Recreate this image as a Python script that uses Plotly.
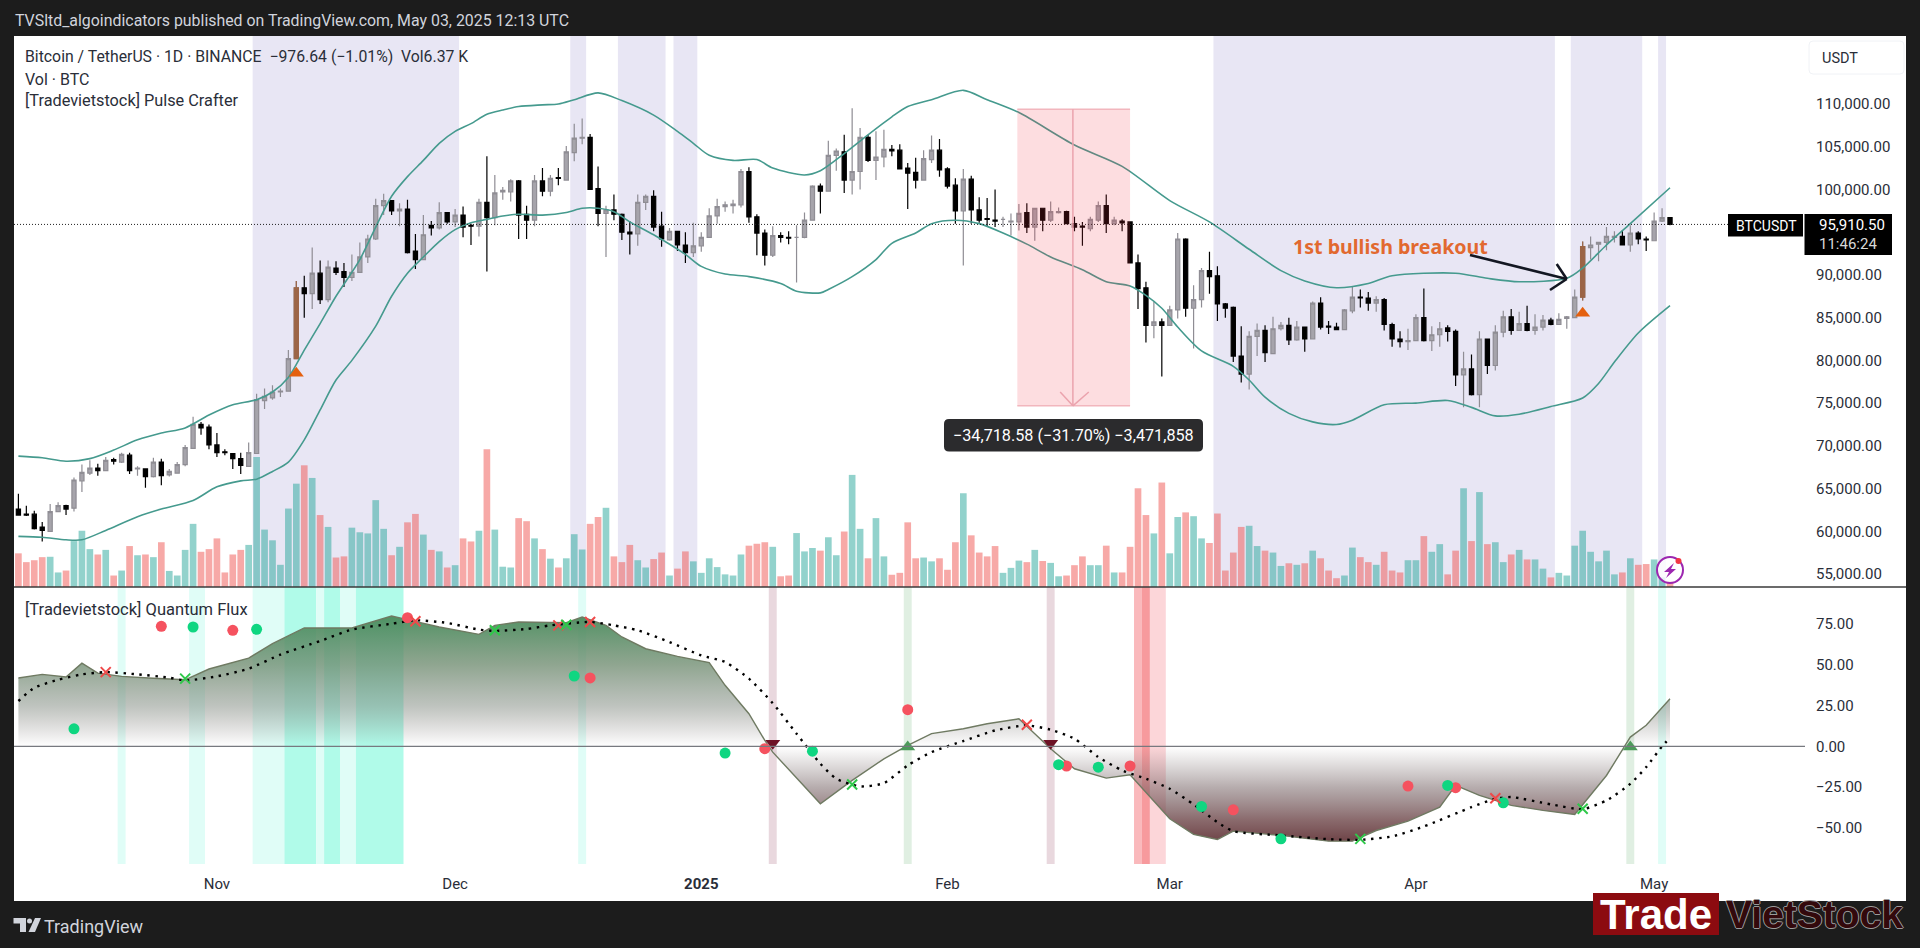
import numpy as np
import pandas as pd
import plotly.graph_objects as go

W, H = 1920, 948
FONT = "Roboto"

# daily candles, thousands of USDT
opens = [62.6,62.0,62.0,60.5,60.0,62.3,63.0,62.7,65.9,66.8,67.4,67.1,68.4,68.1,68.9,67.3,67.3,66.4,68.1,66.6,
66.8,67.8,69.7,72.5,72.2,70.1,69.3,69.1,68.5,67.6,69.1,75.3,75.6,76.3,76.4,80.2,88.5,87.8,90.2,87.1,
90.8,90.4,89.7,90.3,92.1,94.2,98.1,98.7,97.5,97.7,92.8,91.8,95.8,95.5,97.3,96.2,97.0,95.8,95.7,98.5,
96.7,99.7,99.7,101.0,97.1,96.4,101.0,99.8,101.4,101.1,104.3,106.0,106.1,100.1,97.2,97.6,97.1,95.0,94.8,98.5,
99.2,95.7,94.1,95.1,93.5,92.6,93.4,94.4,96.9,98.0,98.1,98.2,102.1,96.8,94.9,92.3,94.6,94.4,94.4,94.4,
96.4,100.4,99.8,104.0,104.4,101.1,102.1,106.1,103.4,103.8,104.7,104.6,102.5,102.0,101.1,103.5,104.6,102.4,100.5,97.5,
101.2,97.6,96.6,96.4,96.5,96.2,96.2,97.3,95.6,97.8,96.4,97.3,97.4,96.0,95.7,95.4,96.4,98.1,96.0,96.3,
96.2,91.4,88.5,84.1,84.5,84.1,85.9,94.2,86.1,87.1,90.5,89.9,86.6,86.2,80.5,78.4,82.8,83.5,80.8,83.7,
84.1,82.4,83.9,82.5,86.7,84.0,83.9,83.6,85.8,87.4,87.3,86.7,87.1,84.2,82.5,82.2,82.3,85.0,82.3,83.0,
83.8,83.4,78.3,79.0,76.0,82.5,79.4,83.3,85.1,83.5,84.3,83.5,83.9,84.7,84.2,84.9,85.0,87.4,93.2,93.6,
93.8,94.4,94.5,93.5,94.9,94.2,94.0,96.3,96.7]
highs = [64.4,63.0,62.4,61.1,63.2,63.4,63.1,66.3,67.8,68.3,67.9,68.7,68.6,69.2,69.2,67.6,67.3,68.6,68.5,67.3,
68.1,70.1,73.4,72.8,72.5,71.5,69.6,69.1,69.2,70.4,76.1,76.7,77.1,76.7,81.2,89.3,89.9,93.2,91.7,91.7,
91.6,91.4,92.4,93.8,94.7,98.9,99.5,98.7,98.4,98.8,94.8,97.0,96.3,98.5,97.3,97.7,98.0,96.0,98.9,103.9,
101.7,100.3,101.2,101.1,98.1,101.7,102.5,101.7,102.5,105.1,107.7,108.3,106.5,102.7,98.1,99.4,97.2,96.3,99.4,99.4,
99.9,97.4,95.5,95.1,95.0,96.1,95.0,97.8,98.9,98.6,98.8,102.4,102.6,97.1,95.3,95.7,95.0,95.1,95.8,97.3,
100.5,100.7,105.7,104.8,106.4,109.5,107.2,106.4,106.8,107.0,105.2,105.3,103.1,103.7,104.6,106.3,105.9,102.6,101.3,102.4,
101.6,99.1,99.0,100.0,96.8,97.2,98.3,98.4,97.8,97.8,98.6,97.9,97.5,96.8,96.2,96.8,98.6,99.4,96.8,96.5,
96.2,92.4,89.2,86.9,84.9,86.4,94.9,94.3,88.8,90.8,92.7,91.0,86.7,86.3,84.0,83.4,84.3,84.1,85.1,84.5,
85.0,84.6,83.9,86.9,87.4,84.6,84.4,86.0,88.6,88.3,88.0,87.5,87.3,84.4,83.4,83.7,85.4,88.4,84.0,84.5,
84.1,83.6,81.0,80.7,83.4,82.5,84.1,85.8,86.0,85.7,86.4,85.4,85.3,85.0,85.5,85.2,88.3,93.9,94.5,93.8,
95.6,95.1,95.2,95.8,95.1,94.5,97.3,97.8,96.7]
lows = [61.9,61.8,60.2,58.8,60.0,62.3,61.9,62.3,64.6,66.6,66.5,67.1,67.8,68.0,66.7,66.5,65.1,66.3,65.4,66.4,
66.8,67.6,69.7,71.3,69.6,68.7,68.9,67.3,66.7,67.6,69.1,74.3,75.4,75.7,76.4,80.2,85.0,86.0,86.6,86.8,
90.0,88.6,89.3,90.3,91.4,94.1,97.0,97.0,95.7,92.5,90.7,91.8,94.6,95.3,96.0,95.6,94.4,93.5,94.5,90.4,
95.8,98.8,98.6,94.2,94.2,95.7,99.2,99.2,100.5,101.1,103.3,105.3,100.0,95.7,92.1,96.4,94.1,92.4,93.4,97.6,
95.1,93.3,94.0,92.8,91.4,92.1,92.7,94.4,96.0,97.4,97.2,97.9,96.1,92.3,91.1,92.1,93.8,93.6,89.1,94.3,
96.4,97.2,99.8,102.2,99.6,99.4,100.0,103.2,101.1,102.6,103.9,102.4,97.7,100.1,101.1,103.1,101.5,100.1,96.0,91.1,
96.0,96.1,95.6,95.6,95.6,94.6,95.2,94.9,94.0,95.1,96.2,97.2,96.0,95.1,93.4,95.1,96.2,94.9,95.8,95.1,
91.4,86.0,82.1,82.6,78.1,84.1,84.9,85.1,81.4,86.2,87.8,84.6,85.0,79.8,77.4,76.6,80.5,79.8,80.8,83.5,
81.8,82.3,81.0,82.5,83.6,83.1,83.6,83.6,85.5,86.2,85.8,85.7,83.5,81.6,81.5,81.2,82.3,82.2,81.1,81.6,
82.2,77.0,74.5,75.9,74.5,78.4,78.8,82.7,83.0,83.5,83.4,83.0,83.5,84.1,84.2,83.7,85.0,87.0,91.8,91.6,
92.9,93.8,93.5,92.7,93.6,92.8,94.0,96.2,95.8]
closes = [61.9,61.9,60.3,60.1,62.3,63.0,62.6,66.0,66.9,67.4,67.1,68.3,68.2,69.0,67.1,67.4,66.4,68.1,66.5,67.0,
67.8,69.8,72.5,72.1,70.1,69.2,69.2,68.5,67.7,69.2,75.4,75.8,76.3,76.4,80.2,88.5,87.8,90.2,87.1,90.9,
90.3,89.7,90.3,92.1,94.2,98.1,98.7,97.5,97.7,92.6,91.8,94.7,95.5,97.3,96.2,97.0,95.6,95.7,98.5,96.7,
99.6,99.9,101.0,97.0,96.4,101.0,99.8,101.3,101.3,104.4,106.0,106.1,100.0,97.2,97.6,97.1,95.0,94.8,98.5,99.2,
95.6,94.2,95.1,93.5,92.6,93.4,94.4,96.9,98.0,98.2,98.3,102.1,96.8,94.9,92.3,94.6,94.4,94.3,94.4,96.4,
100.4,99.8,104.0,104.5,101.1,102.1,106.1,103.4,103.8,104.7,104.5,102.4,101.9,101.1,103.6,104.6,102.3,100.4,97.5,101.2,
97.6,96.4,96.5,96.3,96.5,96.3,97.2,95.6,97.8,96.4,97.4,97.4,96.0,95.6,95.6,96.5,98.1,96.0,96.4,96.1,
91.4,88.4,84.1,84.5,84.1,85.9,94.2,86.1,87.1,90.5,89.8,86.6,86.1,80.5,78.4,82.8,83.5,80.9,83.7,84.1,
82.4,83.9,82.5,86.7,83.9,83.9,83.6,85.9,87.4,87.3,86.7,87.1,84.2,82.5,82.2,82.3,85.0,82.3,83.0,83.7,
83.4,78.3,79.0,76.0,82.5,79.4,83.3,85.1,83.5,84.3,83.5,83.9,84.7,84.2,84.8,85.1,87.4,93.3,93.5,93.8,
94.5,94.5,93.5,94.9,94.2,94.1,96.3,96.7,95.9105]

# volume, only relative heights can be read
volumes = [88,65,70,78,79,38,43,120,147,99,85,97,30,43,107,83,85,78,117,42,
30,97,165,92,99,127,38,85,97,110,340,150,122,58,205,270,318,285,188,157,
77,80,155,143,140,227,152,83,105,169,191,137,97,93,51,57,127,119,147,360,
150,53,51,180,172,127,99,74,51,75,138,98,165,183,207,80,65,110,70,51,
73,90,30,48,93,67,37,75,52,33,30,85,108,113,117,105,28,30,141,93,
102,95,130,83,145,293,152,75,180,80,32,37,169,75,77,67,75,45,117,245,
135,90,80,107,37,50,69,65,97,68,63,28,30,57,80,57,57,108,38,38,
105,258,188,140,273,88,183,195,185,127,115,192,43,90,157,160,107,95,90,55,
62,58,62,95,75,43,23,30,103,78,65,58,92,43,38,70,70,133,92,112,
33,95,258,120,248,112,117,65,85,97,72,72,48,25,37,30,108,147,92,67,
95,33,38,75,58,60,72,25,15]

# channel around the price, bar number and level
upper_idx = [0,3,6,9,12,15,18,21,24,27,30,32,34,36,38,40,43,45,47,49,51,53,55,57,59,61,63,66,68,70,73,76,80,83,85,87,90,93,95,99,101,104,107,110,112,115,119,122,126,133,139,145,150,155,159,162,166,170,173,181,185,189,195,197,200,203,208]
upper_val = [68.8,68.6,68.2,68.5,69.5,70.7,71.5,72.1,73.6,74.8,75.4,76.3,78.0,81.2,84.3,87.5,91.8,95.6,99.2,101.5,103.4,105.4,106.8,107.7,108.8,109.3,109.7,109.9,110.0,110.5,111.3,110.4,108.7,106.8,105.4,104.0,103.4,103.5,102.5,101.7,102.2,104.2,106.4,108.5,109.7,110.5,111.6,110.5,109.0,105.2,102.7,98.7,96.2,93.0,90.5,89.3,88.5,89.0,89.9,90.2,89.6,89.2,89.6,90.8,93.5,96.0,100.2]
lower_idx = [0,3,6,8,11,15,18,22,25,28,30,32,34,36,38,40,42,45,47,49,51,53,55,57,59,61,63,66,69,71,73,75,77,80,84,86,89,92,96,98,101,102,105,108,110,113,115,118,121,124,127,130,134,137,140,142,144,146,149,153,155,157,160,163,166,168,172,176,180,183,186,189,193,197,199,201,204,208]
lower_val = [59.4,59.3,59.0,59.0,60.1,61.7,62.6,63.6,65.2,65.9,66.1,67.0,68.1,70.7,74.2,77.7,80.0,84.0,87.5,90.2,92.1,93.9,95.3,96.1,96.5,96.9,97.1,97.0,97.3,97.8,97.8,97.4,96.2,94.7,92.4,91.0,90.1,89.8,89.0,88.1,87.9,88.3,89.8,91.8,93.7,94.9,96.0,96.4,96.0,94.9,93.6,92.1,90.6,89.2,88.7,87.6,86.1,83.9,81.1,79.3,77.7,75.7,73.8,72.8,72.5,73.0,74.8,75.0,75.3,74.5,73.5,73.7,74.6,75.6,77.3,79.8,83.2,86.4]

breakout_idx = [35, 197]
breakout_marks = [78.5, 85.5]

# lower pane
flux_idx = [0,3,6,8,10,13,17,21,24,27,29,32,36,42,47,49,53,58,60,63,67,69,71,74,76,79,83,87,89,92,94,95,101,105,109,112,115,119,122,126,128,130,133,137,140,142,145,148,151,153,159,165,168,171,175,179,181,184,188,192,196,200,203,205,208]
flux_val = [41.9,44.1,42.5,51.0,44.9,42.9,41.7,40.8,47.4,51.7,54.1,62.9,72.5,72.5,79.8,77.6,73.1,68.6,74.1,76.2,75.8,75.8,79.2,74.1,67.0,59.8,55.1,51.3,37.4,20.0,3.7,-3.5,-35.1,-20.8,-7.6,0.6,7.8,10.8,13.9,16.9,7.8,-1.4,-13.7,-19.4,-17.4,-28.0,-44.3,-53.9,-57.0,-51.9,-54.5,-58.0,-58.0,-51.5,-45.7,-37.2,-23.9,-30.0,-36.1,-39.2,-41.7,-17.8,5.7,12.9,29.2]
signal_idx = [0,2,5,8,11,15,19,21,25,29,33,38,42,47,50,54,58,60,64,67,72,75,78,82,86,89,92,95,98,101,103,106,109,112,115,119,123,127,130,133,136,139,142,145,148,151,153,159,165,169,173,177,183,186,188,193,197,200,203,205,207,208]
signal_val = [27.8,35.9,40.8,44.1,45.5,44.1,42.1,40.4,42.9,47.6,56.2,64.5,71.5,75.1,77.2,75.6,71.5,70.7,71.9,74.1,76.2,74.1,71.1,63.9,55.7,51.7,41.5,26.5,7.8,-10.6,-19.8,-24.5,-22.5,-11.6,-3.5,3.3,9.8,12.9,10.2,4.7,-6.5,-14.7,-19.8,-25.9,-35.5,-46.4,-51.9,-54.5,-56.8,-57.2,-55.1,-49.0,-37.2,-32.1,-31.0,-35.5,-38.4,-33.1,-22.9,-12.7,0.0,5.3]
red_dot_idx = [18,27,49,72,94,112,132,140,153,175,181]
red_dot_val = [73.5,71.1,78.8,41.9,-1.4,22.5,-12.0,-12.0,-38.8,-24.3,-25.3]
green_dot_idx = [7,22,30,70,89,100,131,136,149,159,180,187]
green_dot_val = [10.8,73.1,71.7,43.1,-4.1,-2.9,-11.2,-12.7,-36.8,-56.6,-23.9,-34.5]
red_x_idx = [11,50,68,72,127,186]
red_x_val = [45.5,76.6,74.1,76.2,13.3,-31.7]
green_x_idx = [21,60,69,105,169,197]
green_x_val = [41.5,71.1,74.5,-23.3,-56.6,-38.2]
bear_idx = [95,130]
bear_val = [2.0,2.0]
bull_idx = [112,203]
bull_val = [-0.4,-0.4]

# shaded spans, first and last bar
lavender_spans = [(30,55),(70,71),(76,81),(83,85),(151,193),(196,204),(207,207)]
flux_spans = [(13,13,"a1"),(22,23,"a1"),(30,33,"a1"),(34,37,"a2"),(38,38,"a1"),(39,40,"a2"),(41,42,"a1"),(43,48,"a2"),(71,71,"a1"),
    (95,95,"p"),(112,112,"g"),(130,130,"p"),(141,141,"r2"),(142,142,"r3"),(143,144,"r1"),(203,203,"g"),(207,207,"a1")]
span_colors = {"a1":"#e0fdf7", "a2":"#b0fbe9", "p":"#e9d8de", "g":"#e0efe2",
    "r1":"#fcd6d9", "r2":"#fab9bc", "r3":"#f79a9d"}

price_ticks = [110,105,100,90,85,80,75,70,65,60,55]
price_labels = ["110,000.00","105,000.00","100,000.00","90,000.00","85,000.00","80,000.00","75,000.00","70,000.00","65,000.00","60,000.00","55,000.00"]
flux_ticks = [75,50,25,0,-25,-50]
flux_labels = ["75.00","50.00","25.00","0.00","\u221225.00","\u221250.00"]
month_ticks = ["2024-11-01","2024-12-01","2025-01-01","2025-02-01","2025-03-01","2025-04-01","2025-05-01"]
month_labels = ["Nov","Dec","<b>2025</b>","Feb","Mar","Apr","May"]

start = pd.Timestamp("2024-10-07")
def bar_x(i):
    return start + pd.Timedelta(days=float(i))
dates = [bar_x(i) for i in range(len(closes))]
def k(vals):
    return list(np.array(vals) * 1000)
def px(x):
    return x / W
def py(y):
    return 1 - y / H

TEXT = "#2a2e39"
fig = go.Figure()

up = [c >= o for o, c in zip(opens, closes)]
vol_colors = ["rgba(38,166,154,0.5)" if u else "rgba(239,83,80,0.5)" for u in up]
fig.add_trace(go.Bar(x=dates, y=volumes, marker_color=vol_colors, marker_line_width=0, width=0.84*86400000, yaxis="y", hoverinfo="skip"))
band_line = dict(color="#459a8e", width=1.6, shape="spline", smoothing=0.8)
fig.add_trace(go.Scatter(x=[bar_x(i) for i in upper_idx], y=k(upper_val), mode="lines", line=band_line, yaxis="y3", hoverinfo="skip"))
fig.add_trace(go.Scatter(x=[bar_x(i) for i in lower_idx], y=k(lower_val), mode="lines", line=band_line, yaxis="y3", hoverinfo="skip"))
fig.add_trace(go.Candlestick(x=dates, open=k(opens), high=k(highs), low=k(lows), close=k(closes), whiskerwidth=0, yaxis="y3", hoverinfo="skip",
    increasing=dict(line=dict(color="#8f8d94", width=1.2), fillcolor="#a6a4ab"),
    decreasing=dict(line=dict(color="#000000", width=1.2), fillcolor="#000000")))
fig.add_trace(go.Candlestick(x=[dates[i] for i in breakout_idx], open=k([opens[i] for i in breakout_idx]), high=k([highs[i] for i in breakout_idx]),
    low=k([lows[i] for i in breakout_idx]), close=k([closes[i] for i in breakout_idx]), whiskerwidth=0, yaxis="y3", hoverinfo="skip",
    increasing=dict(line=dict(color="#9c6546", width=1.2), fillcolor="#9c6546"),
    decreasing=dict(line=dict(color="#9c6546", width=1.2), fillcolor="#9c6546")))
fig.add_trace(go.Scatter(x=[dates[i] for i in breakout_idx], y=k(breakout_marks), mode="markers", yaxis="y3", hoverinfo="skip",
    marker=dict(symbol="triangle-up", size=13, color="#e4600f")))

# flux area, one gradient for both sides of zero, clear at the zero line so the spans show through
fig.add_trace(go.Scatter(x=[bar_x(i) for i in flux_idx], y=flux_val, mode="lines", yaxis="y2", xaxis="x", hoverinfo="skip",
    line=dict(color="#6f7a62", width=1.4), fill="tozeroy",
    fillgradient=dict(type="vertical", start=-58, stop=80, colorscale=[
        [0, "rgba(103,58,62,0.95)"], [0.094, "rgba(109,69,72,0.8)"], [0.239, "rgba(110,90,92,0.5)"], [0.42, "rgba(120,110,110,0)"],
        [0.601, "rgba(125,135,125,0.5)"], [0.783, "rgba(106,136,107,0.75)"], [1, "rgba(72,140,92,0.95)"]])))
fig.add_trace(go.Scatter(x=[bar_x(i) for i in signal_idx], y=signal_val, mode="lines", yaxis="y2", hoverinfo="skip",
    line=dict(color="#000000", width=2.4, dash="2.4px,5.6px", shape="spline", smoothing=0.6)))
def flux_marks(idx, val, symbol, size, color, line=None):
    fig.add_trace(go.Scatter(x=[bar_x(i) for i in idx], y=val, mode="markers", yaxis="y2", hoverinfo="skip",
        marker=dict(symbol=symbol, size=size, color=color, line=line or dict(width=0))))
flux_marks(red_dot_idx, red_dot_val, "circle", 11, "#f5525f")
flux_marks(green_dot_idx, green_dot_val, "circle", 11, "#0fd681")
flux_marks(red_x_idx, red_x_val, "x-thin", 10, "#ef4a4a", dict(color="#ef4a4a", width=2))
flux_marks(green_x_idx, green_x_val, "x-thin", 10, "#2fc84a", dict(color="#2fc84a", width=2))
flux_marks(bear_idx, bear_val, "triangle-down", 13, "#6d1225")
flux_marks(bull_idx, bull_val, "triangle-up", 13, "#4c9a5a")

shapes = [dict(type="rect", xref="paper", yref="paper", x0=px(14), x1=px(1906), y0=py(901), y1=py(36), fillcolor="white", line_width=0, layer="below")]
for a, b in lavender_spans:
    shapes.append(dict(type="rect", xref="x", yref="paper", x0=bar_x(a-0.5), x1=bar_x(b+0.5), y0=py(587), y1=py(36), fillcolor="#e8e6f4", line_width=0, layer="below"))
for a, b, c in flux_spans:
    shapes.append(dict(type="rect", xref="x", yref="paper", x0=bar_x(a-0.5), x1=bar_x(b+0.5), y0=py(864), y1=py(587), fillcolor=span_colors[c], line_width=0, layer="below"))

# pane divider, zero line, last price line
shapes.append(dict(type="line", xref="paper", yref="paper", x0=px(14), x1=px(1906), y0=py(587), y1=py(587), line=dict(color="#3a3a3a", width=1.5)))
shapes.append(dict(type="line", xref="paper", yref="y2", x0=px(14), x1=px(1805), y0=0, y1=0, line=dict(color="#77797f", width=1.4)))
shapes.append(dict(type="line", xref="paper", yref="y3", x0=px(14), x1=px(1728), y0=95910.5, y1=95910.5, line=dict(color="#222222", width=1, dash="1px,2px")))

# short position tool
box_a, box_b, box_mid = bar_x(125.8), bar_x(140), bar_x(132.8)
box_top, box_bottom = 109400, 74681
pink = "#f2b6bd"
shapes.append(dict(type="rect", xref="x", yref="y3", x0=box_a, x1=box_b, y0=box_bottom, y1=box_top, fillcolor="rgba(242,54,69,0.17)", line_width=0))
for yy in (box_top, box_bottom):
    shapes.append(dict(type="line", xref="x", yref="y3", x0=box_a, x1=box_b, y0=yy, y1=yy, line=dict(color=pink, width=1.5)))
shapes.append(dict(type="line", xref="x", yref="y3", x0=box_mid, x1=box_mid, y0=box_top, y1=box_bottom, line=dict(color="#eba3ad", width=1.5)))
shapes.append(dict(type="line", xref="x", yref="y3", x0=bar_x(131.2), x1=box_mid, y0=76300, y1=box_bottom, line=dict(color="#eba3ad", width=1.5)))
shapes.append(dict(type="line", xref="x", yref="y3", x0=bar_x(134.8), x1=box_mid, y0=76300, y1=box_bottom, line=dict(color="#eba3ad", width=1.5)))

def rounded(x0, y0, x1, y1, r):
    pts = [("M", x0+r, y0), ("L", x1-r, y0), ("Q", x1, y0, x1, y0+r), ("L", x1, y1-r), ("Q", x1, y1, x1-r, y1), ("L", x0+r, y1), ("Q", x0, y1, x0, y1-r), ("L", x0, y0+r), ("Q", x0, y0, x0+r, y0)]
    out = ""
    for p in pts:
        vals = p[1:]
        coords = [f"{px(vals[j])},{py(vals[j+1])}" for j in range(0, len(vals), 2)]
        out += p[0] + " ".join(coords) + " "
    return out + "Z"

shapes.append(dict(type="path", xref="paper", yref="paper", path=rounded(944, 419, 1203, 451.5, 5), fillcolor="#2b2b2d", line_width=0))
# usdt box
shapes.append(dict(type="path", xref="paper", yref="paper", path=rounded(1809, 41, 1904, 74, 4), fillcolor="white", line=dict(color="#f0f2f6", width=1)))
# price labels
shapes.append(dict(type="rect", xref="paper", yref="paper", x0=px(1728), x1=px(1803), y0=py(236.5), y1=py(214), fillcolor="#000000", line_width=0))
shapes.append(dict(type="rect", xref="paper", yref="paper", x0=px(1804.5), x1=px(1892), y0=py(255), y1=py(214), fillcolor="#000000", line_width=0))

# arrow by hand
ink = "#131722"
for x0, y0, x1, y1 in [(1470,255,1566.7,279),(1556.7,264,1566.7,279),(1550,290,1566.7,279)]:
    shapes.append(dict(type="line", xref="paper", yref="paper", x0=px(x0), y0=py(y0), x1=px(x1), y1=py(y1), line=dict(color=ink, width=2.6)))

# bolt badge
shapes.append(dict(type="circle", xref="paper", yref="paper", x0=px(1657), x1=px(1683), y0=py(583), y1=py(557), fillcolor="rgba(255,255,255,0.8)", line=dict(color="#9c27b0", width=2)))
bolt = [(1674,563),(1664,572),(1669,572),(1666,578),(1676,569),(1671,569)]
shapes.append(dict(type="path", xref="paper", yref="paper", path="M" + " L".join(f"{px(a)},{py(b)}" for a, b in bolt) + " Z", fillcolor="#9c27b0", line_width=0))
shapes.append(dict(type="circle", xref="paper", yref="paper", x0=px(1675.5), x1=px(1681.5), y0=py(564), y1=py(558), fillcolor="#f23645", line_width=0))
# logo box
shapes.append(dict(type="rect", xref="paper", yref="paper", x0=px(1593), x1=px(1719), y0=py(935), y1=py(893), fillcolor="#8c0b10", line_width=0))
# tradingview mark
foot = "#d1d4dc"
shapes.append(dict(type="path", xref="paper", yref="paper", path=f"M{px(13.5)},{py(918)} L{px(26)},{py(918)} L{px(26)},{py(932)} L{px(20)},{py(932)} L{px(20)},{py(923.5)} L{px(13.5)},{py(923.5)} Z", fillcolor=foot, line_width=0))
shapes.append(dict(type="circle", xref="paper", yref="paper", x0=px(27), x1=px(32), y0=py(923.5), y1=py(918.5), fillcolor=foot, line_width=0))
shapes.append(dict(type="path", xref="paper", yref="paper", path=f"M{px(35)},{py(918)} L{px(41)},{py(918)} L{px(35)},{py(932)} L{px(28.5)},{py(932)} Z", fillcolor=foot, line_width=0))

def label(x, y, text, size=15, color=TEXT, anchor="left", family=FONT, shadow=None):
    f = dict(family=family, size=size, color=color)
    if shadow:
        f["shadow"] = shadow
    return dict(xref="paper", yref="paper", x=px(x), y=py(y), text=text, showarrow=False, xanchor=anchor, yanchor="middle",
        font=f, align="left")

outline = "1px 0 0 #9a9a9a,-1px 0 0 #9a9a9a,0 1px 0 #9a9a9a,0 -1px 0 #9a9a9a"
annotations = [
    label(12.5, 20.7, "TVSltd_algoindicators published on TradingView.com, May 03, 2025 12:13 UTC", 15.9, "#d1d4dc"),
    label(22.5, 56.6, "Bitcoin / TetherUS \u00b7 1D \u00b7 BINANCE  \u2212976.64 (\u22121.01%)  Vol6.37 K", 15.8),
    label(22.5, 79, "Vol \u00b7 BTC", 16),
    label(22.5, 101, "[Tradevietstock] Pulse Crafter", 16.3),
    label(22.5, 609, "[Tradevietstock] Quantum Flux", 16.5),
    label(1291, 247, "<b>1st bullish breakout</b>", 19.6, "#e2692f", family="Noto Sans"),
    label(1073.5, 435, "\u221234,718.58 (\u221231.70%) \u22123,471,858", 16.2, "#ffffff", "center"),
    label(1820, 58, "USDT", 14.5),
    label(1766, 226, "BTCUSDT", 14, "#ffffff", "center"),
    label(1817, 225, "95,910.50", 15, "#ffffff"),
    label(1817, 244, "11:46:24", 15, "#d8d8d8"),
    label(42, 926, "TradingView", 18, foot),
    label(1655.8, 914, "<b>Trade</b>", 42, "#ffffff", "center", "Liberation Sans"),
    label(1814, 914, "<b>VietStock</b>", 39, "#33090c", "center", "Liberation Sans", outline),
]

fig.update_layout(
    width=W, height=H, autosize=False, margin=dict(l=0, r=0, t=0, b=0),
    paper_bgcolor="#1c1c1c", plot_bgcolor="rgba(0,0,0,0)", showlegend=False, barmode="overlay", boxgap=0.25,
    font=dict(family=FONT, size=15, color=TEXT),
    shapes=shapes, annotations=annotations,
    xaxis=dict(domain=[px(14), px(1805)], anchor="y2", range=[bar_x(-0.554), bar_x(225.0)], type="date",
        tickmode="array", tickvals=month_ticks, ticktext=month_labels, showgrid=False, zeroline=False, ticks="", showline=False,
        rangeslider=dict(visible=False), tickfont=dict(size=15, color=TEXT), ticklabelstandoff=9),
    yaxis=dict(domain=[py(587), py(36)], range=[0, 1440], visible=False, fixedrange=True),
    yaxis3=dict(domain=[py(587), py(36)], overlaying="y", side="right", anchor="x", range=[53479, 117958],
        tickmode="array", tickvals=k(price_ticks), ticktext=price_labels, showgrid=False, zeroline=False, ticks="", ticklabelstandoff=10,
        tickfont=dict(size=15, color=TEXT)),
    yaxis2=dict(domain=[py(864), py(587)], anchor="x", side="right", range=[-72, 97.6],
        tickmode="array", tickvals=flux_ticks, ticktext=flux_labels, showgrid=False, zeroline=False, ticks="", ticklabelstandoff=10,
        tickfont=dict(size=15, color=TEXT)),
)

fig.write_html("out.html", config=dict(displayModeBar=False), post_script="document.body.style.margin='0';document.body.style.overflow='hidden';")
